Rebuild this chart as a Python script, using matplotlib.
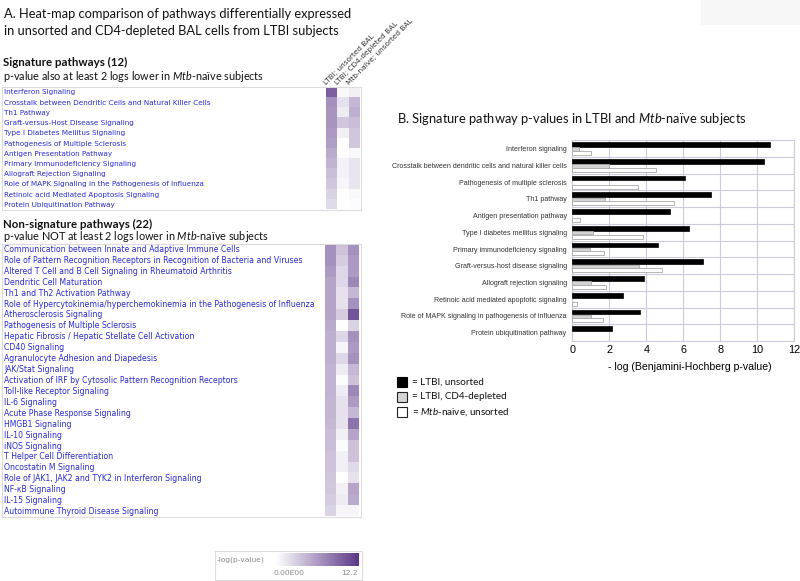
import numpy as np
import matplotlib
matplotlib.use('Agg')
import matplotlib.pyplot as plt
from matplotlib.colors import LinearSegmentedColormap
from matplotlib.patches import Rectangle

plt.rcParams['mathtext.fontset'] = 'custom'
plt.rcParams['mathtext.rm'] = 'Lato'
plt.rcParams['mathtext.it'] = 'Lato:italic'
plt.rcParams['mathtext.bf'] = 'Lato:bold'

# --- data: panel A heat-maps (-log p-value) ---
sig_labels = ["Interferon Signaling",
              "Crosstalk between Dendritic Cells and Natural Killer Cells",
              "Th1 Pathway",
              "Graft-versus-Host Disease Signaling",
              "Type I Diabetes Mellitus Signaling",
              "Pathogenesis of Multiple Sclerosis",
              "Antigen Presentation Pathway",
              "Primary Immunodeficiency Signaling",
              "Allograft Rejection Signaling",
              "Role of MAPK Signaling in the Pathogenesis of Influenza",
              "Retinoic acid Mediated Apoptosis Signaling",
              "Protein Ubiquitination Pathway"]
sig_ltbi_unsorted = [9.8, 6.7, 6.5, 6.5, 6.1, 5.9, 5.1, 4.6, 3.9, 3.4, 2.7, 2.2]
sig_ltbi_cd4 = [0.5, 1.8, 1.2, 3.4, 1.0, 0.0, 0.0, 0.8, 0.8, 0.6, 0.0, 0.0]
sig_naive = [1.0, 4.3, 4.9, 4.0, 3.4, 3.4, 0.4, 1.6, 1.6, 1.6, 0.4, 0.2]

nonsig_labels = ["Communication between Innate and Adaptive Immune Cells",
                 "Role of Pattern Recognition Receptors in Recognition of Bacteria and Viruses",
                 "Altered T Cell and B Cell Signaling in Rheumatoid Arthritis",
                 "Dendritic Cell Maturation",
                 "Th1 and Th2 Activation Pathway",
                 "Role of Hypercytokinemia/hyperchemokinemia in the Pathogenesis of Influenza",
                 "Atherosclerosis Signaling",
                 "Pathogenesis of Multiple Sclerosis",
                 "Hepatic Fibrosis / Hepatic Stellate Cell Activation",
                 "CD40 Signaling",
                 "Agranulocyte Adhesion and Diapedesis",
                 "JAK/Stat Signaling",
                 "Activation of IRF by Cytosolic Pattern Recognition Receptors",
                 "Toll-like Receptor Signaling",
                 "IL-6 Signaling",
                 "Acute Phase Response Signaling",
                 "HMGB1 Signaling",
                 "IL-10 Signaling",
                 "iNOS Signaling",
                 "T Helper Cell Differentiation",
                 "Oncostatin M Signaling",
                 "Role of JAK1, JAK2 and TYK2 in Interferon Signaling",
                 "NF-κB Signaling",
                 "IL-15 Signaling",
                 "Autoimmune Thyroid Disease Signaling"]
nonsig_ltbi_unsorted = [6.7, 6.7, 6.1, 5.5, 5.5, 5.5, 5.5, 5.1, 4.9, 4.9, 4.9, 4.6, 4.6,
                        4.6, 4.4, 4.4, 4.3, 4.0, 3.9, 3.7, 3.7, 3.4, 3.3, 3.1, 2.7]
nonsig_ltbi_cd4 = [3.7, 3.1, 2.4, 2.4, 1.8, 1.8, 3.1, 0.0, 2.4, 0.6, 2.4, 1.2, 0.2,
                   1.2, 1.8, 1.8, 1.8, 1.0, 0.2, 1.0, 1.0, 0.0, 1.0, 1.2, 0.6]
nonsig_naive = [6.7, 6.1, 6.1, 7.3, 4.3, 6.7, 10.4, 2.7, 6.7, 6.1, 6.7, 4.3, 3.7,
                7.3, 6.1, 4.3, 8.5, 5.5, 3.7, 3.7, 2.2, 1.8, 5.5, 5.1, 0.6]
heat_headers = ["LTBI; unsorted BAL", "LTBI; CD4-depleted BAL", "Mtb-naïve; unsorted BAL"]
vmax = 12.2

# --- data: panel B bars (-log BH p-value) ---
bar_labels = ["Interferon signaling",
              "Crosstalk between dendritic cells and natural killer cells",
              "Pathogenesis of multiple sclerosis",
              "Th1 pathway",
              "Antigen presentation pathway",
              "Type I diabetes mellitus signaling",
              "Primary immunodeficiency signaling",
              "Graft-versus-host disease signaling",
              "Allograft rejection signaling",
              "Retinoic acid mediated apoptotic signaling",
              "Role of MAPK signaling in pathogenesis of influenza",
              "Protein ubiquitination pathway"]
bar_unsorted = [10.69, 10.36, 6.07, 7.50, 5.28, 6.31, 4.65, 7.05, 3.89, 2.74, 3.66, 2.13]
bar_cd4 = [0.36, 2.00, 0.0, 1.78, 0.0, 1.14, 0.94, 3.59, 0.99, 0.0, 0.99, 0.0]
bar_naive = [0.99, 4.51, 3.55, 5.48, 0.43, 3.84, 1.73, 4.83, 1.84, 0.25, 1.66, 0.0]
x_ticks = [0, 2, 4, 6, 8, 10, 12]

W, H = 800, 581
fig = plt.figure(figsize=(8, 5.81), dpi=100)


def box(l, t, r, b):
    # pixel box -> figure fraction
    return [l / W, 1 - b / H, (r - l) / W, (b - t) / H]


cmap = LinearSegmentedColormap.from_list('ipa', ['#ffffff', '#5b3787'])
label_blue = '#2b2bd3'
frame_col = '#dcdcdc'

# overlay in pixel coords for free text and decorations
ov = fig.add_axes([0, 0, 1, 1], zorder=-1)
ov.set_xlim(0, W)
ov.set_ylim(H, 0)
ov.axis('off')
ov.add_patch(Rectangle((701, 0), 99, 25, color='#f7f7f7', lw=0))

# titles
ttl = dict(family=['Lato', 'DejaVu Sans'], color='#111111')
ov.text(4, 14, "A. Heat-map comparison of pathways differentially expressed",
        fontsize=9.3, va='center', **ttl)
ov.text(4, 31, "in unsorted and CD4-depleted BAL cells from LTBI subjects",
        fontsize=9.3, va='center', **ttl)
ov.text(3, 62, "Signature pathways (12)", fontsize=8.3, fontweight='bold', va='center', **ttl)
ov.text(3, 77, r"p-value also at least 2 logs lower in $\mathit{Mtb}$-naïve subjects",
        fontsize=7.8, va='center', **ttl)
ov.text(3, 224, "Non-signature pathways (22)", fontsize=8.3, fontweight='bold', va='center', **ttl)
ov.text(3, 236, r"p-value NOT at least 2 logs lower in $\mathit{Mtb}$-naïve subjects",
        fontsize=7.8, va='center', **ttl)
ov.text(397, 119, r"B. Signature pathway p-values in LTBI and $\mathit{Mtb}$-naïve subjects",
        fontsize=9.3, va='center', **ttl)


def heat_table(labels, cols, t, b, cell_l, fsize):
    n = len(labels)
    frame = fig.add_axes(box(2, t, 361, b))
    frame.set_facecolor('none')
    frame.set_xlim(2, 361)
    frame.set_ylim(n, 0)
    frame.set_xticks([])
    frame.set_yticks([])
    for s in frame.spines.values():
        s.set_color(frame_col)
        s.set_linewidth(0.8)
    for i, lab in enumerate(labels):
        frame.text(4, i + 0.5, lab, fontsize=fsize, color=label_blue, va='center',
                   family=['DejaVu Sans'])
    cells = fig.add_axes(box(cell_l, t + 0.5, cell_l + 34, b - 0.5))
    cells.imshow(np.array(cols).T, cmap=cmap, vmin=0, vmax=vmax, aspect='auto',
                 interpolation='nearest')
    cells.axis('off')
    return frame


heat_table(sig_labels, [sig_ltbi_unsorted, sig_ltbi_cd4, sig_naive], 87.3, 210, 325.5, 5.2)
heat_table(nonsig_labels, [nonsig_ltbi_unsorted, nonsig_ltbi_cd4, nonsig_naive], 244, 517, 325, 5.6)

# rotated column headers
for k, hd in enumerate(heat_headers):
    x0 = 327 + k * 11.3
    ov.text(x0, 86, hd, rotation=45, rotation_mode='anchor', ha='left', va='bottom',
            fontsize=5.3, color='#333333', family=['DejaVu Sans'])

# colour scale
cb_frame = fig.add_axes(box(215, 550.7, 361.7, 580))
cb_frame.set_facecolor('none')
cb_frame.set_xticks([])
cb_frame.set_yticks([])
for s in cb_frame.spines.values():
    s.set_color(frame_col)
    s.set_linewidth(0.8)
cb = fig.add_axes(box(276, 553.3, 358.3, 565.7))
cb.imshow(np.linspace(0, vmax, 200)[None, :], cmap=cmap, vmin=0, vmax=vmax, aspect='auto')
cb.axis('off')
grey_txt = dict(fontsize=5.4, color='#8a8a8a', family=['DejaVu Sans'], va='center')
ov.text(217, 560, "-log(p-value)", ha='left', **grey_txt)
ov.text(289, 572.7, "0.00E00", ha='center', **grey_txt)
ov.text(358, 572.7, "12.2", ha='right', **grey_txt)

# --- panel B bar chart ---
ax = fig.add_axes(box(572.3, 140.3, 794.3, 341))
y = np.arange(len(bar_labels))
grid_col = '#cbcbdd'
ax.barh(y - 0.24, bar_unsorted, height=0.28, color='black', edgecolor='black', lw=0.5, zorder=3)
ax.barh(y + 0.03, bar_cd4, height=0.2, color='#d4d4d4', edgecolor='#a8a8a8',
        lw=[0.6 if v > 0 else 0 for v in bar_cd4], zorder=3)
ax.barh(y + 0.265, bar_naive, height=0.24, color='white', edgecolor='#a8a8a8',
        lw=[0.6 if v > 0 else 0 for v in bar_naive], zorder=3)
ax.set_xlim(0, 12)
ax.set_ylim(len(bar_labels) - 0.5, -0.5)
ax.set_xticks(x_ticks)
ax.set_xticklabels([str(v) for v in x_ticks], fontsize=7.8, family=['Liberation Sans', 'DejaVu Sans'])
ax.set_yticks(y)
ax.set_yticklabels(bar_labels, fontsize=5.1, color='#333333', family=['Liberation Sans', 'DejaVu Sans'])
ax.tick_params(length=0, pad=4)
ax.tick_params(axis='x', pad=3)
ax.xaxis.grid(True, color=grid_col, lw=0.8, zorder=0)
for yy in np.arange(0.5, len(bar_labels) - 0.5, 1):
    ax.axhline(yy, color=grid_col, lw=0.8, zorder=0)
for s in ax.spines.values():
    s.set_color(grid_col)
    s.set_linewidth(0.8)
ax.set_axisbelow(True)
ov.text(690, 366.7, "- log (Benjamini-Hochberg p-value)", ha='center', va='center', fontsize=7.6,
        family=['Liberation Sans Narrow', 'Liberation Sans', 'DejaVu Sans'])

# legend
leg = [('black', 'black', "= LTBI, unsorted"),
       ('#d4d4d4', '#222222', "= LTBI, CD4-depleted"),
       ('white', '#222222', r"= $\mathit{Mtb}$-naive, unsorted")]
for k, (fc, ec, txt) in enumerate(leg):
    yc = 381.7 + k * 15
    ov.add_patch(Rectangle((397, yc - 5), 10, 10, facecolor=fc, edgecolor=ec, lw=0.8))
    ov.text(412, yc, txt, fontsize=7.1, va='center', **ttl)

fig.savefig('out.png', dpi=100)
